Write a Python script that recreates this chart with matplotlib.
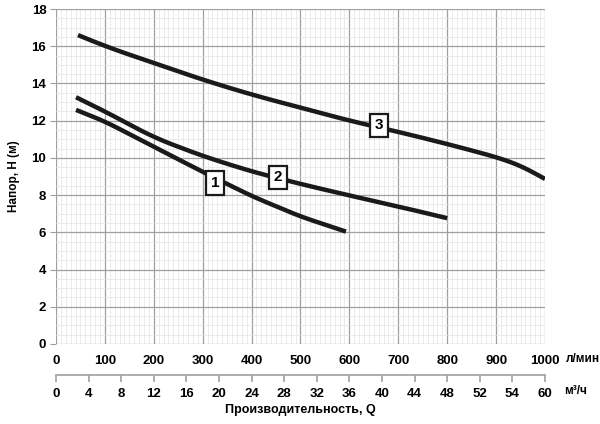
import matplotlib
matplotlib.use("Agg")
import matplotlib.pyplot as plt
from matplotlib.ticker import MultipleLocator, FixedLocator
import numpy as np

plt.rcParams['font.family'] = ['Liberation Sans', 'DejaVu Sans']
plt.rcParams['font.weight'] = 'bold'

# curve 1
q1 = [41, 100, 200, 300, 400, 500, 593]
h1 = [12.58, 11.96, 10.6, 9.25, 7.95, 6.85, 6.04]
# curve 2
q2 = [41, 100, 200, 300, 400, 500, 600, 700, 800]
h2 = [13.26, 12.5, 11.1, 10.1, 9.27, 8.6, 7.98, 7.39, 6.76]
# curve 3
q3 = [45, 100, 200, 300, 400, 500, 600, 700, 800, 900, 925, 950, 975, 1000]
h3 = [16.6, 16.0, 15.1, 14.2, 13.4, 12.7, 12.0, 11.4, 10.75, 10.05, 9.85, 9.6, 9.3, 8.87]

labels = [("1", 325, 8.65), ("2", 454, 8.95), ("3", 660, 11.75)]

xticks = [0, 100, 200, 300, 400, 500, 600, 700, 800, 900, 1000]
m3_ticks = [0, 4, 8, 12, 16, 20, 24, 28, 32, 36, 40, 44, 48, 52, 56, 60]
m3_labels = ["0", "4", "8", "12", "16", "20", "24", "28", "32", "36",
             "40", "44", "48", "52", "54", "60"]

fig = plt.figure(figsize=(6, 4.24), dpi=100)
ax = fig.add_axes([0.0933, 0.1887, 0.815, 0.79])

def smooth(q, h):
    # light smoothing through the read points
    xs = np.linspace(q[0], q[-1], 300)
    ys = np.interp(xs, q, h)
    k = 15
    left = 2 * ys[0] - ys[k:0:-1]
    right = 2 * ys[-1] - ys[-2:-k - 2:-1]
    pad = np.concatenate([left, ys, right])
    ys = np.convolve(pad, np.ones(2 * k + 1) / (2 * k + 1), mode='valid')
    return xs, ys

for q, h in [(q1, h1), (q2, h2), (q3, h3)]:
    xs, ys = smooth(q, h)
    ax.plot(xs, ys, color='#1a1a1a', lw=3.2, solid_capstyle='butt', zorder=3)

for t, x, y in labels:
    ax.text(x, y, t, ha='center', va='center', fontsize=11, fontweight='bold',
            zorder=5,
            bbox=dict(boxstyle='square,pad=0.3', fc='white', ec='#1a1a1a', lw=1.6))

ax.set_xlim(0, 1000)
ax.set_ylim(0, 18)
ax.set_xticks(xticks)
ax.set_yticks(range(0, 19, 2))
ax.xaxis.set_minor_locator(MultipleLocator(10))
ax.yaxis.set_minor_locator(MultipleLocator(0.5))
ax.grid(which='major', color='#a0a0a0', lw=0.9)
ax.grid(which='minor', color='#e3e3e3', lw=0.5)
ax.set_axisbelow(True)
for s in ax.spines.values():
    s.set_visible(False)
ax.tick_params(axis='x', which='both', length=0, pad=8, labelsize=9.5)
ax.tick_params(axis='y', which='major', length=4, color='#a0a0a0', pad=3, labelsize=9.5)
ax.tick_params(axis='y', which='minor', length=0)
ax.set_ylabel("Напор, Н (м)", fontsize=8.5, fontweight='bold', labelpad=8)
ax.text(1042, -0.8, "л/мин", fontsize=8.5, fontweight='bold', ha='left', va='center')

# second scale m3/h
ax2 = fig.add_axes([0.0933, 0.115, 0.815, 0.0001])
ax2.set_xlim(0, 60)
ax2.set_ylim(0, 1)
ax2.set_yticks([])
ax2.xaxis.set_major_locator(FixedLocator(m3_ticks))
ax2.set_xticklabels(m3_labels)
for k in ['top', 'left', 'right']:
    ax2.spines[k].set_visible(False)
ax2.spines['bottom'].set_color('#a0a0a0')
ax2.spines['bottom'].set_linewidth(1.2)
ax2.tick_params(axis='x', length=5, color='#a0a0a0', width=1.2, pad=4, labelsize=9.5)
ax2.patch.set_visible(False)

fig.text(0.94, 0.077, "м³/ч", fontsize=8.5, fontweight='bold', ha='left', va='center')
fig.text(0.5, 0.033, "Производительность, Q", fontsize=9, fontweight='bold', ha='center', va='center')

fig.savefig("out.png", dpi=100)
